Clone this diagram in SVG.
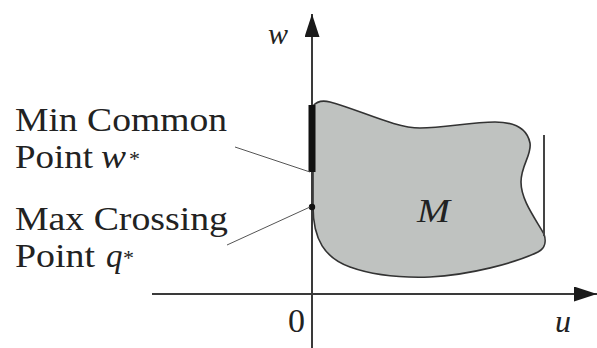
<svg xmlns="http://www.w3.org/2000/svg" width="597" height="348" viewBox="0 0 597 348">
  <style>
    .axis { stroke: #3a3a3a; stroke-width: 2; fill: none; }
    .lead { stroke: #555; stroke-width: 1; fill: none; }
    .txt { font-family: "Liberation Serif", "DejaVu Serif", serif; fill: #222; }
    .it { font-style: italic; }
  </style>
  <defs>
    <marker id="arr" markerUnits="userSpaceOnUse" markerWidth="26" markerHeight="16" refX="23" refY="7.5" orient="auto">
      <path d="M0,0 L23,7.5 L0,15 Z" fill="#1a1a1a"/>
    </marker>
  </defs>

  <rect width="597" height="348" fill="#ffffff"/>

  <g id="region-M">
    <path d="M313,206 C313,240 325,258 350,267 C375,276 400,278 430,277 C470,275 515,263 538,252 C546,248 546,240 544,234 C535,218 521,200 521,182 C521,165 532,155 530,143 C527,128 515,122 495,122 C470,122 445,128 420,128 C395,128 360,110 330,102 C322,100 317,101 313,106 Z" fill="#bfc2c0" stroke="#333" stroke-width="1.6"/>
    <line x1="544" y1="135" x2="544" y2="236" stroke="#444" stroke-width="2"/>
    <text class="txt it" x="417" y="222" font-size="34" textLength="33" lengthAdjust="spacingAndGlyphs">M</text>
  </g>

  <g id="axes">
    <line class="axis" x1="312" y1="348" x2="312" y2="14" marker-end="url(#arr)"/>
    <line class="axis" x1="152" y1="294" x2="597" y2="294" marker-end="url(#arr)"/>
    <text class="txt it" x="268" y="44" font-size="30">w</text>
    <text class="txt" x="288" y="332" font-size="34">0</text>
    <text class="txt it" x="555" y="332" font-size="32">u</text>
  </g>

  <g id="min-common-point">
    <line x1="312" y1="105" x2="312" y2="172" stroke="#111" stroke-width="7"/>
    <text class="txt" x="15" y="131" font-size="33" textLength="212" lengthAdjust="spacingAndGlyphs">Min Common</text>
    <text class="txt" y="168" font-size="33"><tspan x="15" textLength="78" lengthAdjust="spacingAndGlyphs">Point</tspan><tspan class="it" x="101" textLength="25" lengthAdjust="spacingAndGlyphs">w</tspan><tspan x="129" y="166" font-size="22">*</tspan></text>
  </g>

  <g id="max-crossing-point">
    <circle cx="312" cy="207" r="3.2" fill="#111"/>
    <text class="txt" x="15" y="230" font-size="33" textLength="213" lengthAdjust="spacingAndGlyphs">Max Crossing</text>
    <text class="txt" y="267" font-size="33"><tspan x="15" textLength="80" lengthAdjust="spacingAndGlyphs">Point</tspan><tspan class="it" x="106">q</tspan><tspan x="123" y="265" font-size="22">*</tspan></text>
  </g>

  <g id="connectors">
    <line class="lead" x1="235" y1="147" x2="310" y2="172"/>
    <line class="lead" x1="227" y1="245" x2="310" y2="207"/>
  </g>
</svg>
